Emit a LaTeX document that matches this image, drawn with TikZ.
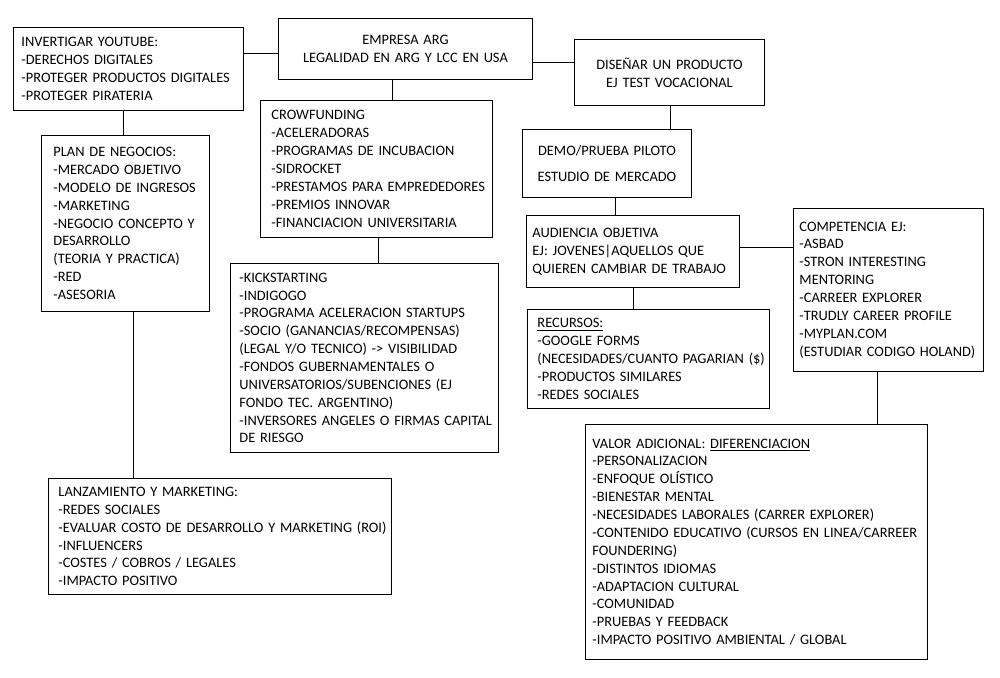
\documentclass[tikz,border=0pt]{standalone}
\usepackage{fontspec}
\setmainfont{Carlito}
\usepackage{tikz}
\usetikzlibrary{
    calc,
    positioning
}
\tikzset{
    every picture/.style = {
        x = 0.75pt,
        y = -0.75pt,
        line width = 0.7pt
    },
    caja/.style = {
        draw,
        anchor = north west,
        inner xsep = 0pt,
        inner ysep = 0pt,
        align = left,
        font = \fontsize{10.8}{13.4}\selectfont,
        execute at begin node = {\leftskip = #1\rightskip = -20pt plus 1fil}
    },
    centrada/.style = {
        draw,
        anchor = north west,
        inner xsep = 0pt,
        inner ysep = 0pt,
        align = center,
        font = \fontsize{10.8}{13.4}\selectfont
    }
}

\begin{document}
\begin{tikzpicture}
    % \draw[step = 50, lightgray, very thin] (0, 0) grid (1000, 678);
    \useasboundingbox (0, 0) rectangle (1000, 678);

    \node[caja = 6pt, text width = 172.5pt, minimum height = 62.25pt] (youtube) at (13, 27) {INVERTIGAR YOUTUBE:\\ -DERECHOS DIGITALES\\ -PROTEGER PRODUCTOS DIGITALES\\ -PROTEGER PIRATERIA};

    \node[centrada, text width = 190.5pt, minimum height = 45.75pt] (empresa) at (278, 18) {EMPRESA ARG\\ LEGALIDAD EN ARG Y LCC EN USA};

    \node[centrada, text width = 142.5pt, minimum height = 49.5pt] (disenar) at (574, 39) {DISEÑAR UN PRODUCTO\\ EJ TEST VOCACIONAL};

    \node[caja = 8.25pt, text width = 174pt, minimum height = 102.75pt] (crowd) at (260, 100) {CROWFUNDING\\ -ACELERADORAS\\ -PROGRAMAS DE INCUBACION\\ -SIDROCKET\\ -PRESTAMOS PARA EMPREDEDORES\\ -PREMIOS INNOVAR\\ -FINANCIACION UNIVERSITARIA};

    \node[caja = 9pt, text width = 126pt, minimum height = 132pt] (plan) at (41, 135) {PLAN DE NEGOCIOS:\\ -MERCADO OBJETIVO\\ -MODELO DE INGRESOS\\ -MARKETING\\ -NEGOCIO CONCEPTO Y\\ DESARROLLO\\ (TEORIA Y PRACTICA)\\ -RED\\ -ASESORIA};

    \node[caja = 6.75pt, text width = 201pt, minimum height = 141.75pt] (kick) at (230, 263) {-KICKSTARTING\\ -INDIGOGO\\ -PROGRAMA ACELERACION STARTUPS\\ -SOCIO (GANANCIAS/RECOMPENSAS)\\ (LEGAL Y/O TECNICO) -> VISIBILIDAD\\ -FONDOS GUBERNAMENTALES O\\ UNIVERSATORIOS/SUBENCIONES (EJ\\ FONDO TEC. ARGENTINO)\\ -INVERSORES ANGELES O FIRMAS CAPITAL\\ DE RIESGO};

    \node[caja = 7.5pt, text width = 257.25pt, minimum height = 87pt] (lanz) at (48, 478) {LANZAMIENTO Y MARKETING:\\ -REDES SOCIALES\\ -EVALUAR COSTO DE DESARROLLO Y MARKETING (ROI)\\ -INFLUENCERS\\ -COSTES / COBROS / LEGALES\\ -IMPACTO POSITIVO};

    \node[centrada, text width = 126.75pt, minimum height = 51pt] (demo) at (522, 129) {DEMO/PRUEBA PILOTO\\[6pt] ESTUDIO DE MERCADO};

    \node[caja = 4.5pt, text width = 159.75pt, minimum height = 54pt] (audiencia) at (526, 215) {AUDIENCIA OBJETIVA\\ EJ: JOVENES|AQUELLOS QUE\\ QUIEREN CAMBIAR DE TRABAJO};

    \node[caja = 7.5pt, text width = 181.5pt, minimum height = 74.25pt] (recursos) at (527, 309) {\underline{RECURSOS:}\\ -GOOGLE FORMS\\ (NECESIDADES/CUANTO PAGARIAN (\$)\\ -PRODUCTOS SIMILARES\\ -REDES SOCIALES};

    \node[caja = 4.5pt, text width = 142.5pt, minimum height = 122.25pt] (competencia) at (793, 208) {COMPETENCIA EJ:\\ -ASBAD\\ -STRON INTERESTING\\ MENTORING\\ -CARREER EXPLORER\\ -TRUDLY CAREER PROFILE\\ -MYPLAN.COM\\ (ESTUDIAR CODIGO HOLAND)};

    \node[caja = 5.25pt, text width = 256.5pt, minimum height = 176.25pt] (valor) at (585, 424) {VALOR ADICIONAL: \underline{DIFERENCIACION}\\ -PERSONALIZACION\\ -ENFOQUE OLÍSTICO\\ -BIENESTAR MENTAL\\ -NECESIDADES LABORALES (CARRER EXPLORER)\\ -CONTENIDO EDUCATIVO (CURSOS EN LINEA/CARREER\\ FOUNDERING)\\ -DISTINTOS IDIOMAS\\ -ADAPTACION CULTURAL\\ -COMUNIDAD\\ -PRUEBAS Y FEEDBACK\\ -IMPACTO POSITIVO AMBIENTAL / GLOBAL};

    \draw (youtube.east |- 0, 53) -- (empresa.west |- 0, 53);
    \draw (empresa.east |- 0, 62) -- (disenar.west |- 0, 62);
    \draw (empresa.south -| 392, 0) -- (crowd.north -| 392, 0);
    \draw (youtube.south -| 123, 0) -- (plan.north -| 123, 0);
    \draw (crowd.south -| 378, 0) -- (kick.north -| 378, 0);
    \draw (plan.south -| 133, 0) -- (lanz.north -| 133, 0);
    \draw (disenar.south -| 670, 0) -- (demo.north -| 670, 0);
    \draw (demo.south -| 615, 0) -- (audiencia.north -| 615, 0);
    \draw (audiencia.east |- 0, 247) -- (competencia.west |- 0, 247);
    \draw (audiencia.south -| 633, 0) -- (recursos.north -| 633, 0);
    \draw (competencia.south -| 877, 0) -- (valor.north -| 877, 0);
\end{tikzpicture}
\end{document}
